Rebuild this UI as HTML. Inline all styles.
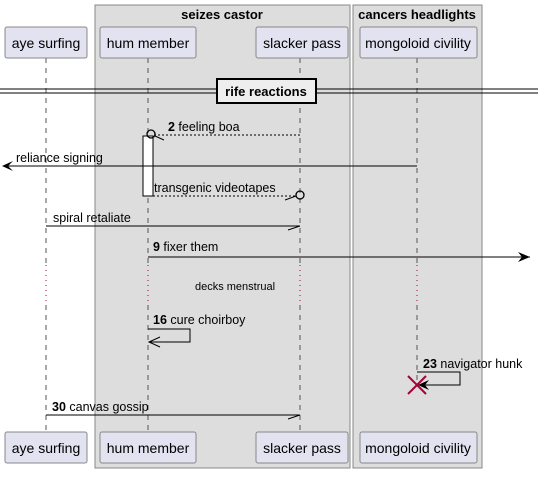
<!DOCTYPE html>
<html><head><meta charset="utf-8"><style>
body{margin:0;background:#fff;width:538px;height:474px;overflow:hidden}
text{font-family:"Liberation Sans",sans-serif;fill:#000}
</style></head><body>
<svg width="538" height="474" xmlns="http://www.w3.org/2000/svg">
<g>
<rect x="95" y="5" width="255" height="463" fill="#ddd" stroke="#888" stroke-width="1"/>
<text x="222" y="19" font-size="13" font-weight="bold" text-anchor="middle">seizes castor</text></g>
<g>
<rect x="353" y="5" width="129" height="463" fill="#ddd" stroke="#888" stroke-width="1"/>
<text x="417" y="19" font-size="13" font-weight="bold" text-anchor="middle">cancers headlights</text></g>
<g stroke="#555" stroke-dasharray="5,5">
<line x1="46" y1="58" x2="46" y2="265"/><line x1="46" y1="305" x2="46" y2="432"/>
<line x1="148" y1="58" x2="148" y2="265"/><line x1="148" y1="305" x2="148" y2="432"/>
<line x1="300" y1="58" x2="300" y2="265"/><line x1="300" y1="305" x2="300" y2="432"/>
<line x1="417" y1="58" x2="417" y2="265"/><line x1="417" y1="305" x2="417" y2="385"/>
</g>
<g stroke="#a03" stroke-dasharray="1,4">
<line x1="46" y1="265" x2="46" y2="305"/><line x1="148" y1="265" x2="148" y2="305"/>
<line x1="300" y1="265" x2="300" y2="305"/><line x1="417" y1="265" x2="417" y2="305"/></g>
<g font-size="14">
<g><rect x="5" y="27" width="82" height="31" rx="2" fill="#e2e2f0" stroke="#888"/><text x="46" y="48" text-anchor="middle">aye surfing</text>
<rect x="5" y="432" width="82" height="31" rx="2" fill="#e2e2f0" stroke="#888"/><text x="46" y="453" text-anchor="middle">aye surfing</text></g>
<g><rect x="100" y="27" width="96" height="31" rx="2" fill="#e2e2f0" stroke="#888"/><text x="148" y="48" text-anchor="middle">hum member</text>
<rect x="100" y="432" width="96" height="31" rx="2" fill="#e2e2f0" stroke="#888"/><text x="148" y="453" text-anchor="middle">hum member</text></g>
<g><rect x="256" y="27" width="92" height="31" rx="2" fill="#e2e2f0" stroke="#888"/><text x="302" y="48" text-anchor="middle">slacker pass</text>
<rect x="256" y="432" width="92" height="31" rx="2" fill="#e2e2f0" stroke="#888"/><text x="302" y="453" text-anchor="middle">slacker pass</text></g>
<g><rect x="360" y="27" width="117" height="31" rx="2" fill="#e2e2f0" stroke="#888"/><text x="418" y="48" text-anchor="middle">mongoloid civility</text>
<rect x="360" y="432" width="117" height="31" rx="2" fill="#e2e2f0" stroke="#888"/><text x="418" y="453" text-anchor="middle">mongoloid civility</text></g>
</g>
<g>
<line x1="0" y1="89" x2="538" y2="89" stroke="#000"/><line x1="0" y1="93" x2="538" y2="93" stroke="#000"/>
<rect x="217" y="79" width="99" height="24" fill="#eee" stroke="#000" stroke-width="2"/>
<text x="266" y="96" font-size="13" font-weight="bold" text-anchor="middle">rife reactions</text></g>
<rect x="143" y="136" width="10" height="60" fill="#fff" stroke="#000"/>
<g font-size="12.5" stroke-width="1">
<g><line x1="300" y1="135" x2="155" y2="135" stroke="#000" stroke-dasharray="2,2"/><circle cx="151" cy="134" r="4" fill="none" stroke="#000" stroke-width="1.3"/><line x1="155" y1="136" x2="164" y2="140" stroke="#000"/><text x="168" y="131"><tspan font-weight="bold">2</tspan> feeling boa</text></g>
<g><line x1="417" y1="166" x2="3" y2="166" stroke="#000"/><path d="M13 161 L2 166 L13 171 L8 166 Z" fill="#000"/><text x="16" y="162">reliance signing</text></g>
<g><line x1="153" y1="196" x2="296" y2="196" stroke="#000" stroke-dasharray="2,2"/><circle cx="300" cy="195" r="4" fill="none" stroke="#000" stroke-width="1.3"/><line x1="285" y1="200" x2="296" y2="196" stroke="#000"/><text x="154" y="192">transgenic videotapes</text></g>
<g><line x1="46" y1="226" x2="300" y2="226" stroke="#000"/><line x1="288" y1="230" x2="300" y2="226" stroke="#000"/><text x="53" y="222">spiral retaliate</text></g>
<g><line x1="148" y1="257" x2="530" y2="257" stroke="#000"/><path d="M518 252 L530 257 L518 262 L522 257 Z" fill="#000"/><text x="153" y="251"><tspan font-weight="bold">9</tspan> fixer them</text></g>
<text x="235" y="290" font-size="11" text-anchor="middle">decks menstrual</text>
<g><polyline points="148,329 190,329 190,342 150,342" fill="none" stroke="#000"/><polyline points="160,337 149,342 160,347" fill="none" stroke="#000"/><text x="153" y="324"><tspan font-weight="bold">16</tspan> cure choirboy</text></g>
<g><polyline points="417,372 460,372 460,385 419,385" fill="none" stroke="#000"/><path d="M429 380 L418 385 L429 390 L425 385 Z" fill="#000"/><text x="423" y="368"><tspan font-weight="bold">23</tspan> navigator hunk</text></g>
<g stroke="#a80036" stroke-width="2"><line x1="408" y1="376" x2="426" y2="394"/><line x1="426" y1="376" x2="408" y2="394"/></g>
<g><line x1="46" y1="415" x2="300" y2="415" stroke="#000"/><line x1="288" y1="419" x2="300" y2="415" stroke="#000"/><text x="52" y="411"><tspan font-weight="bold">30</tspan> canvas gossip</text></g>
</g>
</svg>
</body></html>
